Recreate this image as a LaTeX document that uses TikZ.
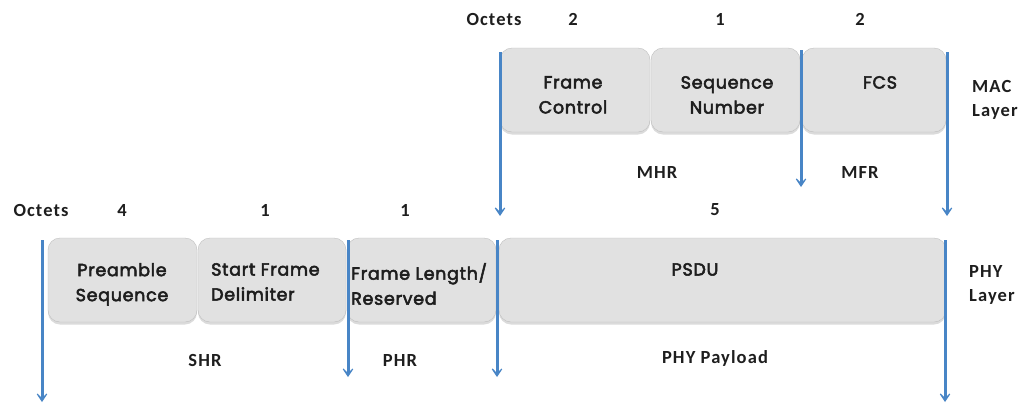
\documentclass[tikz,border=0pt]{standalone}
\usepackage{fontspec}
\setmainfont{Carlito}[LetterSpace=6]
\newfontfamily\boxfont{Poppins}[FakeBold=3,LetterSpace=4]
\usetikzlibrary{arrows.meta,shadows}
\definecolor{boxgray}{RGB}{225,225,225}
\definecolor{arrblue}{RGB}{72,133,198}
\definecolor{txt}{RGB}{30,30,30}
\tikzset{
  fieldbox/.style={fill=boxgray, draw=boxgray!85!black, line width=0.4pt, rounded corners=12pt,
    minimum height=84pt, inner sep=0pt,
    drop shadow={shadow xshift=0pt, shadow yshift=-2.5pt, opacity=0.35, fill=black!40}},
  fieldtext/.style={font=\boxfont\fontsize{17.5}{25}\selectfont, text=txt, align=center, anchor=north, inner sep=0pt},
  lbl/.style={font=\bfseries\fontsize{18.5}{24}\selectfont, text=txt, inner sep=0pt},
  arr/.style={draw=arrblue, line width=3pt, -{Stealth[length=12pt,width=16pt,inset=8pt]}}
}
\begin{document}
\begin{tikzpicture}[x=1pt,y=-1pt]
\useasboundingbox (0,0) rectangle (1021,405);
\fill[white] (0,0) rectangle (1021,405);
% MAC layer boxes
\node[fieldbox, minimum width=150pt] (fc) at (575,90) {};
\node[fieldbox, minimum width=149pt] (sn) at (725.5,90) {};
\node[fieldbox, minimum width=144pt] (fcs) at (874,90) {};
% PHY layer boxes
\node[fieldbox, minimum width=149pt] (pre) at (122.5,280) {};
\node[fieldbox, minimum width=148pt] (sfd) at (272,280) {};
\node[fieldbox, minimum width=149pt] (fl) at (421.5,280) {};
\node[fieldbox, minimum width=447pt] (psdu) at (722.5,280) {};
% box texts
\node[fieldtext] (tfc) at (573,76) {Frame\\Control};
\node[fieldtext] (tsn) at (727,76) {Sequence\\Number};
\node[fieldtext] (tfcs) at (880,76) {FCS};
\node[fieldtext] (tpre) at (122,263) {Preamble\\Sequence};
\node[fieldtext, anchor=north west, align=left] (tsfd) at (211,263) {Start Frame\\Delimiter};
\node[fieldtext, anchor=north west, align=left] (tfl) at (351,263) {Frame Length/\\Reserved};
\node[fieldtext] (tpsdu) at (695,263) {PSDU};
% labels
\node[lbl] (oct1) at (494,19) {Octets};
\node[lbl] (n2a) at (573,19) {2};
\node[lbl] (n1a) at (720,19) {1};
\node[lbl] (n2b) at (860,19) {2};
\node[lbl, align=left, anchor=west] (mac) at (972,100) {MAC\\Layer};
\node[lbl] (mhr) at (657,172) {MHR};
\node[lbl] (mfr) at (860,172) {MFR};
\node[lbl] (n5) at (715,210) {5};
\node[lbl] (oct2) at (41,210) {Octets};
\node[lbl] (n4) at (122,210) {4};
\node[lbl] (n1b) at (265,210) {1};
\node[lbl] (n1c) at (405,210) {1};
\node[lbl, align=left, anchor=west] (phy) at (969,285) {PHY\\Layer};
\node[lbl] (shr) at (205,360) {SHR};
\node[lbl] (phr) at (400,360) {PHR};
\node[lbl] (pay) at (715,358) {PHY Payload};
% arrow end points
\coordinate (a1s) at (500,52);  \coordinate (a1e) at (500,216);
\coordinate (a2s) at (801,50);  \coordinate (a2e) at (801,187);
\coordinate (a3s) at (947,52);  \coordinate (a3e) at (947,216);
\coordinate (b1s) at (42,240);  \coordinate (b1e) at (42,402);
\coordinate (b2s) at (348,240); \coordinate (b2e) at (348,377);
\coordinate (b3s) at (497,240); \coordinate (b3e) at (497,377);
\coordinate (b4s) at (945,240); \coordinate (b4e) at (945,402);
\draw[arr] (a1s) -- (a1e);
\draw[arr] (a2s) -- (a2e);
\draw[arr] (a3s) -- (a3e);
\draw[arr] (b1s) -- (b1e);
\draw[arr] (b2s) -- (b2e);
\draw[arr] (b3s) -- (b3e);
\draw[arr] (b4s) -- (b4e);
\end{tikzpicture}
\end{document}
